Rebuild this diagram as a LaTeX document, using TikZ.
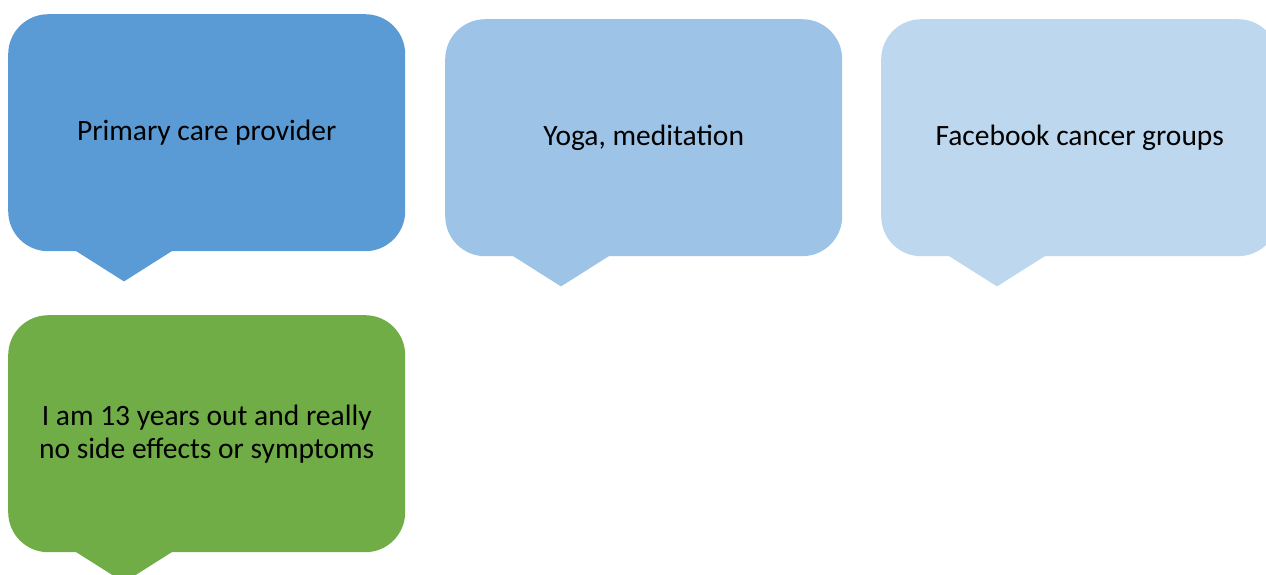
\documentclass[tikz,border=0pt]{standalone}
\usepackage{fontspec}
\setmainfont{Carlito}
\usetikzlibrary{calc}
\definecolor{calloutA}{HTML}{5B9BD5}
\definecolor{calloutB}{HTML}{9DC3E6}
\definecolor{calloutC}{HTML}{BDD7EE}
\definecolor{calloutD}{HTML}{70AD47}
\tikzset{
  bubble/.style={fill=#1, draw=none, rounded corners=40pt, minimum width=397pt,
    minimum height=237pt, inner sep=0pt, anchor=north west, align=center,
    font=\fontsize{29.5}{33}\selectfont, text=black},
  tail/.style={fill=#1, draw=none}
}
% speech bubble: rounded box with a pointed tail below its left part
\newcommand{\bubblenode}[5]{%
  \node[bubble=#4] (#1) at (#2pt,-#3pt) {#5};
  \fill[tail=#4] ($(#1.south west)+(67pt,1pt)$) -- ($(#1.south west)+(116pt,-30pt)$)
    -- ($(#1.south west)+(165pt,1pt)$) -- cycle;
}
\begin{document}
\begin{tikzpicture}[x=1pt,y=1pt]
\useasboundingbox (0,0) rectangle (1266,-574);
\clip (0,0) rectangle (1266,-574);
\bubblenode{pcp}{8}{14}{calloutA}{Primary care provider}
\bubblenode{yoga}{445}{19}{calloutB}{Yoga, meditation}
\bubblenode{fb}{881}{19}{calloutC}{Facebook cancer groups}
\bubblenode{quote}{8}{315}{calloutD}{I am 13 years out and really\\no side effects or symptoms}
\end{tikzpicture}
\end{document}
